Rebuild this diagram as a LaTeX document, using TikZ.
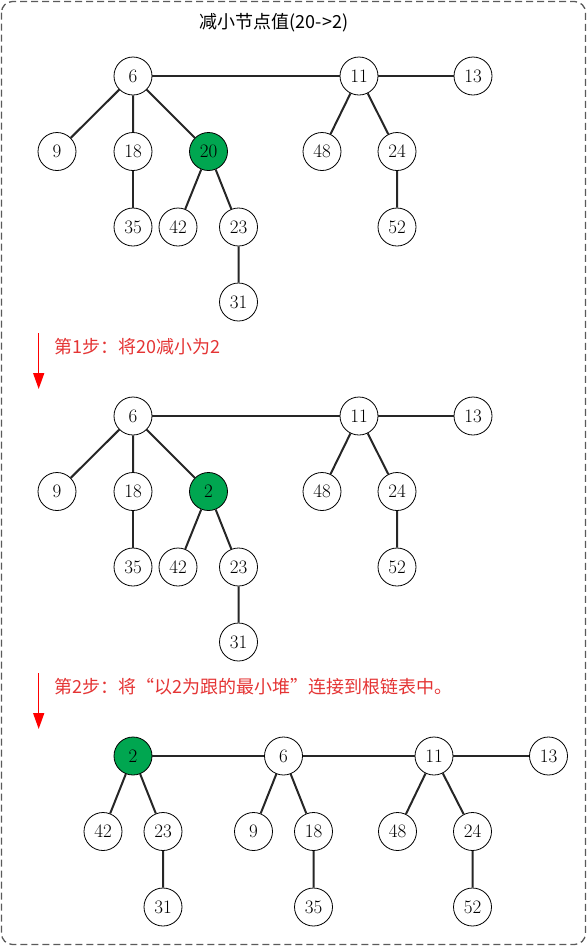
\documentclass[tikz,border=0pt]{standalone}
\usepackage{fontspec}
\newfontfamily\cjkfont{Noto Sans CJK SC}
\usetikzlibrary{arrows.meta}
\definecolor{heapgreen}{RGB}{0,166,80}
\definecolor{stepred}{RGB}{228,52,52}
\definecolor{framegray}{RGB}{90,90,90}
\tikzset{
  heap-node/.style={
    circle,
    draw=black,
    line width=0.8pt,
    fill=white,
    minimum size=38pt,
    inner sep=0pt,
    font=\fontsize{19}{19}\selectfont
  },
  heap-node-green/.style={heap-node, fill=heapgreen},
  tree-edge/.style={line width=2pt, draw=black!85},
  step-arrow/.style={draw=red, line width=1.5pt, -{Triangle[width=11pt,length=16pt]}},
  step-text/.style={anchor=west, inner sep=0pt, text=stepred, font=\cjkfont\fontsize{18}{18}\selectfont},
  frame-box/.style={draw=framegray, line width=1.3pt, dash pattern=on 7pt off 4pt, rounded corners=11pt}
}
% the heap of the first two steps, #1 = prefix, #2 = shift, #3 = green key
\newcommand{\heapforest}[3]{
  \begin{scope}[shift={(0,#2)}]
    \node[heap-node] (#1-6) at (133,76) {6};
    \node[heap-node] (#1-11) at (359,76) {11};
    \node[heap-node] (#1-13) at (473,76) {13};
    \node[heap-node] (#1-9) at (57,151.5) {9};
    \node[heap-node] (#1-18) at (133,151.5) {18};
    \node[heap-node-green] (#1-key) at (208.5,151.5) {#3};
    \node[heap-node] (#1-48) at (322,151.5) {48};
    \node[heap-node] (#1-24) at (397,151.5) {24};
    \node[heap-node] (#1-35) at (133,227) {35};
    \node[heap-node] (#1-42) at (178,227) {42};
    \node[heap-node] (#1-23) at (238.5,227) {23};
    \node[heap-node] (#1-52) at (397,227) {52};
    \node[heap-node] (#1-31) at (238.5,302) {31};
  \end{scope}
  \draw[tree-edge] (#1-6) -- (#1-11) (#1-11) -- (#1-13);
  \draw[tree-edge] (#1-6) -- (#1-9) (#1-6) -- (#1-18) (#1-6) -- (#1-key);
  \draw[tree-edge] (#1-18) -- (#1-35);
  \draw[tree-edge] (#1-key) -- (#1-42) (#1-key) -- (#1-23) (#1-23) -- (#1-31);
  \draw[tree-edge] (#1-11) -- (#1-48) (#1-11) -- (#1-24) (#1-24) -- (#1-52);
}

\begin{document}
\begin{tikzpicture}[x=1pt, y=-1pt]
  \useasboundingbox (0,0) rectangle (587,946);
  \draw[frame-box] (1.5,1.5) rectangle (585.5,944.5);

  \node[font=\cjkfont\fontsize{18}{18}\selectfont] (title) at (274,23) {减小节点值(20->2)};

  % Before
  \heapforest{a}{0}{20}

  % Step 1
  \coordinate (s1-top) at (38.7,333);
  \coordinate (s1-tip) at (38.7,389);
  \draw[step-arrow] (s1-top) -- (s1-tip);
  \node[step-text] (s1-text) at (54,347) {第1步：将20减小为2};

  \heapforest{b}{340}{2}

  % Step 2
  \coordinate (s2-top) at (38.7,673);
  \coordinate (s2-tip) at (38.7,729);
  \draw[step-arrow] (s2-top) -- (s2-tip);
  \node[step-text] (s2-text) at (54,687) {第2步：将“以2为跟的最小堆”连接到根链表中。};

  % Root list after step 2
  \node[heap-node-green] (c-2) at (133,756) {2};
  \node[heap-node] (c-6) at (283.5,756) {6};
  \node[heap-node] (c-11) at (434,756) {11};
  \node[heap-node] (c-13) at (548.5,756) {13};
  \node[heap-node] (c-42) at (103,831.5) {42};
  \node[heap-node] (c-23) at (163,831.5) {23};
  \node[heap-node] (c-9) at (253.5,831.5) {9};
  \node[heap-node] (c-18) at (313.5,831.5) {18};
  \node[heap-node] (c-48) at (397.5,831.5) {48};
  \node[heap-node] (c-24) at (472.5,831.5) {24};
  \node[heap-node] (c-31) at (163,907) {31};
  \node[heap-node] (c-35) at (313.5,907) {35};
  \node[heap-node] (c-52) at (472.5,907) {52};

  \draw[tree-edge] (c-2) -- (c-6) (c-6) -- (c-11) (c-11) -- (c-13);
  \draw[tree-edge] (c-2) -- (c-42) (c-2) -- (c-23) (c-23) -- (c-31);
  \draw[tree-edge] (c-6) -- (c-9) (c-6) -- (c-18) (c-18) -- (c-35);
  \draw[tree-edge] (c-11) -- (c-48) (c-11) -- (c-24) (c-24) -- (c-52);
\end{tikzpicture}
\end{document}
